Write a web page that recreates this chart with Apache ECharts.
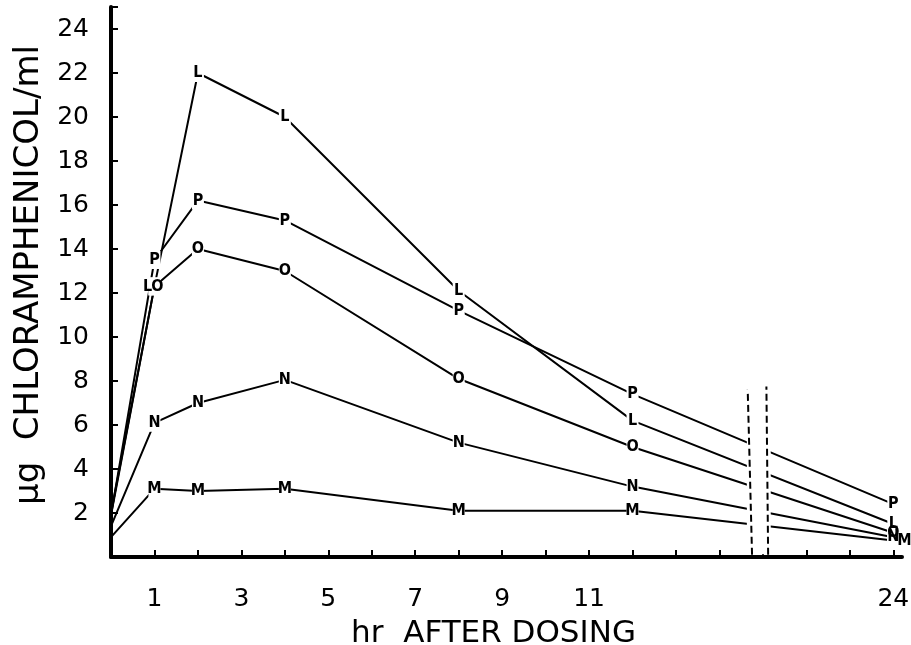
<!DOCTYPE html>
<html>
<head>
<meta charset="utf-8">
<script src="https://cdn.jsdelivr.net/npm/echarts@6/dist/echarts.min.js"></script>
<style>
html,body{margin:0;padding:0;background:#fff;}
#c{width:911px;height:645px;}
</style>
</head>
<body>
<div id="c"></div>
<script>
// Hours after dosing
var hours = [0, 1, 2, 4, 8, 12, 24];
// µg chloramphenicol / ml for each subject
var seriesL = [2.0, 12.3, 22.0, 20.0, 12.1, 6.2, 1.5];
var seriesP = [1.9, 13.5, 16.2, 15.3, 11.2, 7.4, 2.4];
var seriesO = [1.9, 12.3, 14.0, 13.0, 8.1, 5.0, 1.1];
var seriesN = [1.4, 6.1, 7.0, 8.05, 5.2, 3.2, 0.9];
var seriesM = [0.9, 3.1, 3.0, 3.1, 2.1, 2.1, 0.75];
var seriesNames = ['L', 'P', 'O', 'N', 'M'];
// x tick labels
var xTickHours = [1, 3, 5, 7, 9, 11, 24];
var xTickLabels = ['1', '3', '5', '7', '9', '11', '24'];
// y tick labels
var yTickValues = [2, 4, 6, 8, 10, 12, 14, 16, 18, 20, 22, 24];
// broken axis: the hours between breakFrom and breakTo are cut out
var breakFrom = 14.63, breakTo = 21.18;

function pos(h) { return h < 17 ? h : h - 6; }

var font = "'DejaVu Sans', sans-serif";
var markFont = "'DejaVu Sans Condensed', 'DejaVu Sans', sans-serif";

var labelOffsets = { 'L': { 1: [-7, 0] }, 'O': { 1: [3, 0] }, 'M': { 24: [11, 0] } };

function makeSeries(name, vals) {
  return {
    name: name,
    type: 'line',
    z: 3,
    data: hours.map(function (h, i) {
      var item = { value: [pos(h), vals[i]] };
      if (h === 0) { item.symbol = 'none'; }
      var off = labelOffsets[name] && labelOffsets[name][h];
      if (off) { item.label = { offset: off }; }
      return item;
    }),
    symbol: 'rect',
    symbolSize: [12, 18],
    showSymbol: true,
    itemStyle: { color: '#fff', borderWidth: 0 },
    lineStyle: { color: '#000', width: 2 },
    label: {
      show: true, position: 'inside', formatter: name,
      color: '#000', fontWeight: 'bold', fontSize: 16, fontFamily: markFont
    },
    emphasis: { disabled: true },
    animation: false
  };
}

var allVals = [seriesL, seriesP, seriesO, seriesN, seriesM];
var series = seriesNames.map(function (n, i) { return makeSeries(n, allVals[i]); });

series.push({
  type: 'line',
  data: [],
  z: 8,
  silent: true,
  markArea: {
    z: 10, silent: true,
    itemStyle: { color: '#fff' },
    data: [[{ coord: [pos(breakFrom), 0.12] }, { coord: [pos(breakTo), 9] }]]
  },
  markLine: {
    z: 11, silent: true, symbol: 'none',
    label: { show: false },
    lineStyle: { type: [7, 4], color: '#000', width: 2 },
    data: [
      [{ coord: [pos(breakFrom) + 0.12, 0.1] }, { coord: [pos(breakFrom) + 0.02, 7.6] }],
      [{ coord: [pos(breakTo) - 0.06, 0.1] }, { coord: [pos(breakTo) - 0.1, 7.75] }]
    ]
  },
  animation: false
});

var chart = echarts.init(document.getElementById('c'), null, { renderer: 'canvas' });
chart.setOption({
  backgroundColor: '#fff',
  animation: false,
  grid: { left: 111, right: 9, top: 7, bottom: 88, containLabel: false, outerBoundsMode: 'none' },
  xAxis: {
    type: 'value', min: 0, max: 18.2, interval: 1,
    name: 'hr  AFTER DOSING', nameLocation: 'middle', nameGap: 61,
    nameTextStyle: { fontSize: 31, color: '#000', fontFamily: font, padding: [0, 26, 0, 0] },
    axisLine: { show: true, lineStyle: { color: '#000', width: 4 } },
    axisTick: { show: true, inside: true, length: 7, lineStyle: { color: '#000', width: 2 } },
    splitLine: { show: false },
    axisLabel: {
      color: '#000', fontSize: 25, fontFamily: font, margin: 30,
      showMaxLabel: false,
      formatter: function (v) {
        for (var i = 0; i < xTickHours.length; i++) {
          if (Math.abs(pos(xTickHours[i]) - v) < 1e-6) return xTickLabels[i];
        }
        return '';
      }
    }
  },
  yAxis: {
    type: 'value', min: 0, max: 25, interval: 2,
    name: 'μg  CHLORAMPHENICOL/ml', nameLocation: 'middle', nameGap: 57,
    nameTextStyle: { fontSize: 34, color: '#000', fontFamily: font, padding: [0, 0, 0, 14] },
    axisLine: { show: true, lineStyle: { color: '#000', width: 4 } },
    axisTick: { show: true, inside: true, length: 7, lineStyle: { color: '#000', width: 2 } },
    splitLine: { show: false },
    axisLabel: {
      color: '#000', fontSize: 25, fontFamily: font, margin: 22,
      formatter: function (v) { return yTickValues.indexOf(v) >= 0 ? String(v) : ''; }
    }
  },
  series: series
});
</script>
</body>
</html>
